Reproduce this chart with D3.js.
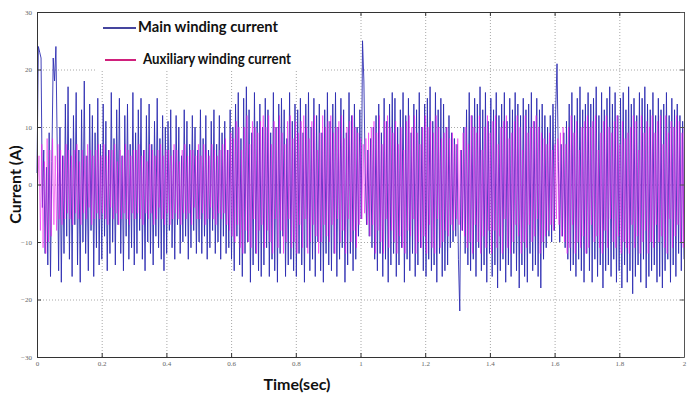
<!DOCTYPE html>
<html>
<head>
<meta charset="utf-8">
<script src="https://cdn.jsdelivr.net/npm/d3@7"></script>
<style>
  html, body { margin: 0; padding: 0; background: #fff; }
  svg { display: block; }
  .tick text { font-family: "Liberation Serif", serif; font-size: 7px; fill: #666; }
  .grid line { stroke: #a8a8a8; stroke-dasharray: 1,2; }
  .grid .domain { display: none; }
</style>
</head>
<body>
<div id="chart"></div>
<script>
// values, one row = 0.1 s
const mainCurrent = [
  2, 24, 23, 22, -4, 6, -12, 3, -14, 9, -16, 4, 22, 18, 24, 6, -15, 10, -17, 5, -12, 14, -9, 17,
  -13, 8, -16, 12, -7, 16, -14, 6, -17, 13, -10, 18, -12, 5, -15, 14, -8, 12, -16, 9, -11, 15, -14, 7,
  -13, 14, -9, 11, -15, 6, -12, 16, -10, 8, -14, 13, -7, 15, -12, 5, -15, 12, -9, 14, -13, 7, -11, 16,
  -14, 9, -12, 13, -8, 15, -13, 6, -15, 12, -10, 14, -12, 7, -14, 11, -9, 15, -11, 8, -13, 12, -15, 10,
  -12, 11, -8, 13, -11, 6, -13, 12, -7, 10, -12, 5, -10, 13, -9, 11, -13, 7, -11, 12, -8, 10, -12, 6,
  -10, 13, -12, 8, -9, 12, -13, 6, -11, 11, -8, 13, -12, 7, -10, 12, -13, 9, -9, 11, -12, 6, -11, 13,
  -13, 10, -15, 14, -9, 16, -14, 8, -16, 15, -12, 17, -10, 13, -17, 9, -14, 16, -12, 11, -15, 14, -16, 10,
  -14, 15, -11, 13, -16, 9, -13, 16, -15, 10, -17, 14, -12, 15, -9, 13, -16, 8, -14, 16, -13, 11, -15, 14,
  -16, 13, -12, 15, -14, 9, -17, 14, -11, 16, -15, 10, -13, 15, -16, 12, -10, 14, -15, 9, -17, 13, -12, 16,
  -14, 11, -15, 14, -12, 16, -16, 10, -13, 15, -11, 13, -17, 9, -14, 16, -12, 12, -15, 14, -13, 10, -9, 13,
  -6, 25, 18, 2, -7, 6, -9, 8, -11, 10, -13, 12, -15, 14, -12, 9, -16, 15, -13, 11, -17, 14, -14, 16,
  -12, 15, -16, 10, -14, 13, -11, 16, -17, 12, -13, 15, -15, 9, -12, 14, -16, 13, -14, 16, -11, 10, -15, 14,
  -16, 15, -13, 17, -15, 11, -14, 16, -17, 13, -12, 15, -16, 14, -15, 10, -14, 12, -11, 9, -10, 8, -9, 7,
  -13, -22, 6, -8, 10, -12, 13, -14, 16, -15, 12, -13, 15, -16, 14, -11, 17, -15, 13, -14, 16, -17, 11, -12,
  15, -16, 13, -14, 16, -18, 12, -15, 14, -13, 16, -17, 11, -14, 15, -16, 13, -12, 16, -15, 14, -18, 12, -14,
  15, -16, 13, -17, 14, -12, 16, -15, 11, -14, 15, -16, 13, -18, 14, -13, 12, -11, 10, -9, 12, -10, 14, -8,
  13, 21, 4, -10, 7, -9, 9, -11, 11, -13, 14, -15, 16, -14, 12, -16, 15, -13, 17, -15, 13, -17, 14, -12,
  16, -15, 14, -17, 15, -13, 17, -16, 12, -14, 16, -18, 13, -15, 15, -14, 17, -16, 14, -13, 16, -17, 12, -15,
  15, -18, 16, -14, 13, -17, 17, -15, 14, -19, 15, -16, 12, -14, 16, -17, 15, -13, 17, -18, 14, -16, 13, -15,
  16, -14, 12, -17, 15, -16, 13, -18, 14, -15, 16, -13, 12, -17, 15, -14, 13, -16, 14, -12, 12, -15, 11, -13
];
const auxCurrent = [
  0, 5, -8, 7, -11, 4, -12, 8, -10, 6, -9, 8, -7, 5, -8, 7, -6, 6, -7, 5, -6, 7, -5, 6,
  -6, 5, -7, 6, -5, 7, -6, 4, -7, 6, -5, 5, -6, 7, -4, 6, -7, 5, -6, 6, -5, 7, -6, 5,
  -5, 7, -6, 5, -7, 6, -4, 6, -6, 7, -5, 4, -7, 6, -6, 5, -5, 7, -6, 6, -7, 5, -5, 6,
  -6, 6, -5, 7, -6, 5, -7, 6, -5, 4, -6, 7, -5, 6, -7, 5, -6, 6, -4, 7, -6, 5, -7, 6,
  -5, 6, -7, 5, -6, 7, -5, 6, -6, 4, -7, 6, -5, 7, -6, 5, -5, 6, -7, 6, -4, 5, -6, 7,
  -6, 5, -5, 7, -7, 6, -6, 5, -4, 7, -6, 6, -7, 5, -5, 6, -6, 7, -5, 8, -7, 6, -8, 9,
  -9, 8, -10, 11, -7, 10, -11, 6, -12, 10, -8, 12, -10, 7, -11, 11, -6, 10, -12, 9, -8, 11, -7, 12,
  -11, 10, -8, 12, -10, 7, -12, 11, -6, 10, -11, 12, -8, 9, -12, 7, -10, 11, -6, 12, -11, 8, -10, 11,
  -12, 9, -7, 11, -11, 12, -6, 10, -12, 8, -10, 11, -7, 12, -9, 6, -12, 9, -10, 12, -7, 10, -9, 11,
  -10, 12, -7, 9, -12, 10, -6, 11, -10, 12, -8, 8, -12, 10, -6, 11, -10, 12, -8, 10, -11, 9, -7, 8,
  -6, 7, -5, 8, -7, 9, -9, 10, -7, 11, -12, 9, -8, 12, -10, 7, -12, 11, -6, 12, -11, 10, -8, 9,
  -10, 11, -12, 7, -9, 10, -11, 6, -12, 11, -8, 12, -9, 10, -6, 12, -12, 9, -10, 7, -11, 10, -9, 12,
  -12, 10, -7, 11, -11, 9, -12, 12, -6, 10, -11, 8, -10, 9, -8, 10, -9, 8, -7, 9, -8, 7, -6, 8,
  -7, 6, -8, 9, -9, 10, -11, 7, -10, 12, -12, 10, -7, 9, -10, 12, -12, 6, -9, 10, -11, 12, -8, 9,
  -12, 11, -8, 12, -11, 7, -9, 10, -12, 11, -6, 12, -11, 8, -12, 9, -10, 11, -7, 12, -9, 10, -12, 6,
  -10, 12, -11, 9, -7, 10, -10, 11, -9, 12, -6, 10, -12, 9, -10, 8, -9, 7, -8, 9, -7, 6, -8, 7,
  -6, 8, -7, 9, -9, 10, -10, 7, -12, 10, -11, 12, -7, 9, -12, 11, -10, 6, -11, 10, -9, 11, -12, 12,
  -11, 10, -7, 11, -10, 12, -9, 6, -11, 9, -12, 11, -8, 12, -11, 10, -6, 9, -10, 11, -11, 12, -9, 7,
  -12, 11, -10, 8, -11, 9, -12, 10, -7, 12, -11, 11, -9, 6, -12, 12, -10, 9, -8, 11, -12, 10, -10, 12,
  -11, 9, -7, 11, -10, 12, -9, 7, -11, 12, -12, 9, -6, 11, -11, 10, -9, 12, -7, 11, -10, 9, -11, 10
];
const seriesNames = ['Main winding current', 'Auxiliary winding current'];
const xTicks = [0, 0.2, 0.4, 0.6, 0.8, 1, 1.2, 1.4, 1.6, 1.8, 2];
const xTickLabels = ['0', '0.2', '0.4', '0.6', '0.8', '1', '1.2', '1.4', '1.6', '1.8', '2'];
const yTicks = [-30, -20, -10, 0, 10, 20, 30];
const tEnd = 2;

const width = 687, height = 398;
const plotLeft = 37, plotRight = 684, plotTop = 12, plotBottom = 357;
const titleFont = 'Lato, "Open Sans", sans-serif';

const svg = d3.select('#chart').append('svg')
  .attr('width', width)
  .attr('height', height);

const x = d3.scaleLinear().domain([0, tEnd]).range([plotLeft, plotRight]);
const y = d3.scaleLinear().domain([-30, 30]).range([plotBottom, plotTop]);

// grid
svg.append('g')
  .attr('class', 'grid')
  .attr('transform', `translate(0,${plotBottom})`)
  .call(d3.axisBottom(x).tickValues(xTicks.slice(1, -1)).tickSize(-(plotBottom - plotTop)).tickFormat(''));
svg.append('g')
  .attr('class', 'grid')
  .attr('transform', `translate(${plotLeft},0)`)
  .call(d3.axisLeft(y).tickValues(yTicks.slice(1, -1)).tickSize(-(plotRight - plotLeft)).tickFormat(''));

// series
const line = d3.line()
  .x(d => x(d[0]))
  .y(d => y(d[1]));

const dtMain = tEnd / (mainCurrent.length - 1);
svg.append('path')
  .datum(mainCurrent.map((v, i) => [i * dtMain, v]))
  .attr('fill', 'none')
  .attr('stroke', '#2e2eb2')
  .attr('stroke-width', 0.9)
  .attr('d', line);

const dtAux = tEnd / (auxCurrent.length - 1);
svg.append('path')
  .datum(auxCurrent.map((v, i) => [Math.min(tEnd, (i + 0.5) * dtAux), v]))
  .attr('fill', 'none')
  .attr('stroke', '#ee1eee')
  .attr('stroke-opacity', 0.62)
  .attr('stroke-width', 0.9)
  .attr('d', line);

// axes (ticks pointing inward, like matlab)
const fmtX = (d, i) => xTickLabels[i];
svg.append('g')
  .attr('transform', `translate(0,${plotBottom})`)
  .call(d3.axisBottom(x).tickValues(xTicks).tickFormat(fmtX).tickSizeInner(-4).tickSizeOuter(0).tickPadding(4))
  .call(g => g.select('.domain').attr('stroke', '#333'))
  .call(g => g.selectAll('.tick line').attr('stroke', '#333'));
svg.append('g')
  .attr('transform', `translate(0,${plotTop})`)
  .call(d3.axisTop(x).tickValues(xTicks).tickFormat('').tickSizeInner(-4).tickSizeOuter(0))
  .call(g => g.select('.domain').attr('stroke', '#333'))
  .call(g => g.selectAll('.tick line').attr('stroke', '#333'));
svg.append('g')
  .attr('transform', `translate(${plotLeft},0)`)
  .call(d3.axisLeft(y).tickValues(yTicks).tickSizeInner(-4).tickSizeOuter(0).tickPadding(5))
  .call(g => g.select('.domain').attr('stroke', '#333'))
  .call(g => g.selectAll('.tick line').attr('stroke', '#333'));
svg.append('g')
  .attr('transform', `translate(${plotRight},0)`)
  .call(d3.axisRight(y).tickValues(yTicks).tickFormat('').tickSizeInner(-4).tickSizeOuter(0))
  .call(g => g.select('.domain').attr('stroke', '#555'))
  .call(g => g.selectAll('.tick line').attr('stroke', '#555'));

// legend box over the plot
const legend = svg.append('g');
legend.append('rect')
  .attr('x', 96).attr('y', plotTop + 1)
  .attr('width', 224).attr('height', 58)
  .attr('fill', '#fff');
const legendColors = ['#45459e', '#d0207c'];
const legendY = [27, 59];
const legendX = [103, 105];
const legendTextX = [138, 143];
const legendTextLen = [140, 148];
seriesNames.forEach((name, i) => {
  legend.append('line')
    .attr('x1', legendX[i]).attr('x2', 136)
    .attr('y1', legendY[i] + 1).attr('y2', legendY[i] + 1)
    .attr('stroke', legendColors[i])
    .attr('stroke-width', 2);
  legend.append('text')
    .attr('x', legendTextX[i])
    .attr('y', legendY[i])
    .attr('dy', '0.35em')
    .attr('font-family', titleFont)
    .attr('font-weight', 'bold')
    .attr('font-size', 15)
    .attr('fill', '#111')
    .attr('textLength', legendTextLen[i])
    .attr('lengthAdjust', 'spacingAndGlyphs')
    .text(name);
});

// axis titles
svg.append('text')
  .attr('transform', `translate(15,${(plotTop + plotBottom) / 2}) rotate(-90)`)
  .attr('text-anchor', 'middle')
  .attr('dy', '0.35em')
  .attr('font-family', titleFont)
  .attr('font-weight', 'bold')
  .attr('font-size', 16)
  .attr('fill', '#111')
  .text('Current (A)');
svg.append('text')
  .attr('x', 297)
  .attr('y', 384)
  .attr('text-anchor', 'middle')
  .attr('dy', '0.35em')
  .attr('font-family', titleFont)
  .attr('font-weight', 'bold')
  .attr('font-size', 16)
  .attr('fill', '#111')
  .text('Time(sec)');
</script>
</body>
</html>
